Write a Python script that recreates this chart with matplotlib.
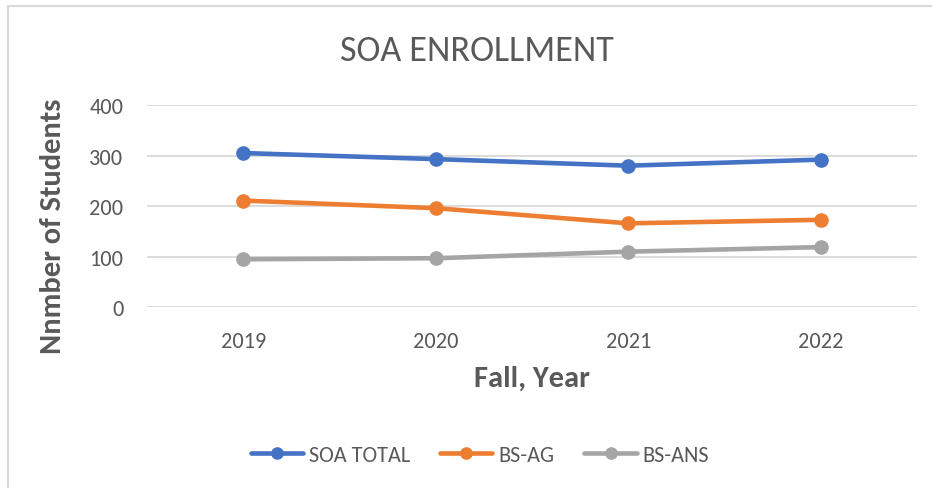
import matplotlib
matplotlib.use("Agg")
import matplotlib.pyplot as plt
from matplotlib.lines import Line2D

years = ["2019", "2020", "2021", "2022"]
soa_total = [305, 293, 280, 292]
bs_ag = [211, 196, 166, 173]
bs_ans = [95, 97, 110, 119]
series_names = ["SOA TOTAL", "BS-AG", "BS-ANS"]
y_ticks = [0, 100, 200, 300, 400]

plt.rcParams['font.family'] = ['Carlito', 'DejaVu Sans']
text_color = "#595959"

W, H = 932, 489
fig = plt.figure(figsize=(W / 100, H / 100), dpi=100)

# chart frame (only top and left edges visible in the crop)
fx, fy = 7.5 / W, 1 - 7 / H
fig.add_artist(Line2D([fx, 1.0], [fy, fy], transform=fig.transFigure,
                      color="#d9d9d9", linewidth=1.5))
fig.add_artist(Line2D([fx, fx], [0.0, fy], transform=fig.transFigure,
                      color="#d9d9d9", linewidth=1.5))

ax_l, ax_r, ax_t, ax_b = 147, 917, 106, 308.3
ax = fig.add_axes([ax_l / W, 1 - ax_b / H, (ax_r - ax_l) / W, (ax_b - ax_t) / H])

x = list(range(len(years)))
colors = ["#4472C4", "#ED7D31", "#A5A5A5"]
for vals, name, c in zip([soa_total, bs_ag, bs_ans], series_names, colors):
    ax.plot(x, vals, color=c, linewidth=3.3, marker="o", markersize=9.5,
            label=name, solid_capstyle="round", zorder=3)

ax.set_xlim(-0.5, len(years) - 0.5)
ax.set_ylim(0, 400)
ax.set_yticks(y_ticks)
ax.set_xticks(x)
ax.set_xticklabels(years)
ax.grid(axis="y", color="#d9d9d9", linewidth=1.3, zorder=0)
ax.set_axisbelow(True)
for s in ax.spines.values():
    s.set_visible(False)
ax.tick_params(axis="both", length=0, labelsize=16, labelcolor=text_color)
ax.tick_params(axis="y", pad=17)
ax.tick_params(axis="x", pad=17)

ax.set_xlabel("Fall, Year", fontsize=22, fontweight="bold", color=text_color, labelpad=10)
fig.text(53 / W, 1 - 226 / H, "Nnmber of Students", rotation=90, fontsize=22,
         fontweight="bold", color=text_color, ha="center", va="center")

fig.text(477 / W, 1 - 51 / H, "SOA ENROLLMENT", fontsize=26, color=text_color,
         ha="center", va="center")

leg = fig.legend(loc="center", bbox_to_anchor=(480 / W, 1 - 456 / H), ncol=3,
                 frameon=False, fontsize=16, handlelength=2.35, handletextpad=0.27,
                 columnspacing=1.35, labelcolor=text_color, markerscale=0.85)

fig.savefig("out.png", dpi=100)
